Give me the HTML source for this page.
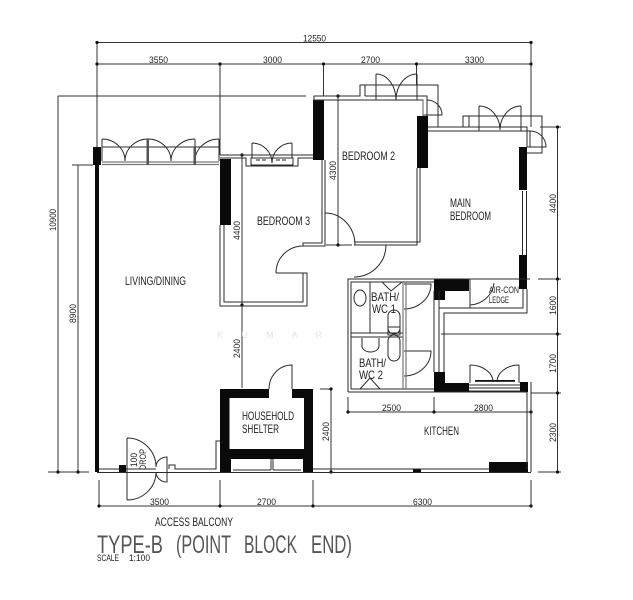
<!DOCTYPE html>
<html><head><meta charset="utf-8"><style>
html,body{margin:0;padding:0;background:#fff;width:633px;height:600px;overflow:hidden}
svg{display:block}
text{font-family:"Liberation Sans",sans-serif;fill:#222}
</style></head><body>
<svg width="633" height="600" viewBox="0 0 633 600" xmlns="http://www.w3.org/2000/svg">
<rect width="633" height="600" fill="#fff"/>
<!-- dimension lines -->
<g fill="none" stroke="#333" stroke-width="1">
<path d="M97 42.5H531M97 64H531M97 42.5V147M220 64V155M323.5 64V96M416.5 64V85M531 42.5V127"/>
<path d="M58 96H306M58 96V472M78 165V472M48 472H89M72 165H93"/>
<path d="M242 155V388M338 96V245M326 245H352"/>
<path d="M557.5 127V472M540 127H561M538 279H561M441 334H561M531 393H561M538 472H561"/>
<path d="M331 389V472M320 389H331"/>
<path d="M348 412H531M348 397V412M434 397V412M531 392V412"/>
<path d="M99 506H531M99 480V506M220 480V506M313 480V506M531 480V506"/>
</g>
<g fill="#111">
<circle cx="97" cy="42.5" r="1.6"/><circle cx="531" cy="42.5" r="1.6"/>
<circle cx="97" cy="64" r="1.6"/><circle cx="220" cy="64" r="1.6"/><circle cx="323.5" cy="64" r="1.6"/><circle cx="416.5" cy="64" r="1.6"/><circle cx="531" cy="64" r="1.6"/>
<circle cx="338" cy="96" r="1.6"/><circle cx="338" cy="245" r="1.6"/><circle cx="242" cy="155" r="1.6"/><circle cx="242" cy="305" r="1.6"/>
<circle cx="557.5" cy="127" r="1.6"/><circle cx="557.5" cy="279" r="1.6"/><circle cx="557.5" cy="334" r="1.6"/><circle cx="557.5" cy="393" r="1.6"/><circle cx="557.5" cy="472" r="1.6"/>
<circle cx="58" cy="472" r="1.6"/><circle cx="78" cy="472" r="1.6"/>
<circle cx="331" cy="389" r="1.6"/><circle cx="331" cy="472" r="1.6"/>
<circle cx="348" cy="412" r="1.6"/><circle cx="434" cy="412" r="1.6"/><circle cx="531" cy="412" r="1.6"/>
<circle cx="99" cy="506" r="1.6"/><circle cx="220" cy="506" r="1.6"/><circle cx="313" cy="506" r="1.6"/><circle cx="531" cy="506" r="1.6"/>
</g>
<!-- black walls -->
<g fill="#0a0a0a">
<rect x="95" y="165" width="4" height="307"/>
<rect x="93" y="147" width="8" height="18"/>
<rect x="220" y="159" width="11" height="66"/>
<rect x="313" y="100" width="11" height="60"/>
<rect x="417" y="116" width="11" height="52"/>
<rect x="519" y="147" width="8" height="43"/>
<rect x="519" y="255" width="8" height="34"/>
<rect x="434" y="279" width="35" height="12"/>
<rect x="434" y="291" width="11" height="9"/>
<rect x="434" y="372" width="11" height="20"/>
<rect x="445" y="383" width="24" height="9"/>
<rect x="520" y="382" width="8" height="10"/>
<rect x="489" y="462" width="39" height="10"/>
<rect x="413" y="469" width="8" height="3"/>
<rect x="119" y="465" width="7" height="7"/>
<path fill-rule="evenodd" d="M220 389H313V472H303V459H231V472H220ZM229.500 398V449H304V398Z"/>
</g>
<rect x="269" y="389" width="23" height="9" fill="#fff"/>
<!-- plan lines -->
<g fill="none" stroke="#2a2a2a" stroke-width="1">
<!-- living window -->
<path d="M102 139V161M148 139V161M195 139V161M219 139V161M102 147H219"/>
<path d="M102 139A23 22 0 0 1 125 161M148 139A23 22 0 0 0 125 161M148 139A23 22 0 0 1 171 161M195 139A24 22 0 0 0 171 161M219 139A24 22 0 0 0 195 161"/>
<!-- bedroom 3 -->
<path d="M220 155H313M220 158H246V166H298V158H313"/>
<path d="M252 158V143M292 158V143M252 143A20 20 0 0 1 272 163M292 143A20 20 0 0 0 272 163M251 158H293V165H251Z"/>
<path d="M220 225V306H307V273H276M224 225V302H303V273M276 273A27 27 0 0 1 303 246M303 246V243H322V160M303 243V246H325V160"/>
<!-- bedroom 2 -->
<path d="M314 100V96H360V85H438V127M365 85V96M360 85H365M314 100H365"/>
<path d="M365 96H427V116M365 100H423V116M376 74V100M417 74V100M376 74A20 26 0 0 1 396 100M417 74A21 26 0 0 0 396 100M427 100A15 15 0 0 1 442 115H423"/>
<path d="M417 168V245H354M420 168V242H354M325 213A30 32 0 0 1 355 245"/>
<!-- main bedroom -->
<path d="M428 127H463V116H542V153H527M469 116V127M428 131H530V147M463 127H527V147M479 106V131M521 106V131M479 106A21 24 0 0 1 500 130M521 106A21 24 0 0 0 500 130M530 131A16 16 0 0 1 546 147H527"/>
<path d="M522.500 191V255M526.500 191V255"/>
<!-- bathrooms -->
<path d="M348 392V279H530M351 389V282H434M348 392H527M351 389H434M351 333H403M351 337H403M370 282V333"/>
<path d="M404 284H431A27 25 0 0 1 404 309M404 351H431A27 25 0 0 1 404 376"/>
<path d="M382 282L391 291L402 282M360 389L370 378L380 389"/>
<ellipse cx="360" cy="298" rx="6" ry="8"/>
<path d="M362 338V346A8.500 6 0 0 0 379 346V338"/>
<rect x="388" y="310" width="12" height="24" rx="6"/>
<rect x="388" y="335" width="12" height="26" rx="6"/>
<rect x="388" y="327" width="12" height="8"/>
<path d="M434 291V372M439 291V372"/>
<!-- air-con -->
<path d="M527 289V313H444V372M523 289V308H439V291M470 279V308M470 305A26 24 0 0 0 494 283"/>
<!-- bath door outside -->
<path d="M354 277A32 32 0 0 0 386 245"/>
<!-- kitchen window -->
<path d="M470 365V383M519 365V383M470 365A23 17 0 0 1 493 382M519 365A22 17 0 0 0 497 382M469 385H520M469 388H520M469 391H520"/>
<!-- kitchen walls -->
<path d="M527 392V469M531 382V472M313 469H489"/>
<!-- shelter door -->
<path d="M269 389A23 24 0 0 1 292 365V389"/>
<!-- bottom -->
<path d="M97 472.500H531"/>
<path d="M99 469H119M126 469H156M169 469V465H175V469H216V441H220"/>
<path d="M127 438V500M127 438A29 29 0 0 1 156 467M127 500A29 28 0 0 0 156 472M156 467A11 10 0 0 1 167 457V482A11 10 0 0 1 156 472"/>
<path d="M271 459V470M273 459V470M233 470H271M273 470H301"/>
</g>
<g fill="none" stroke="#777" stroke-width="1.200">
<path d="M102 162H219M102 164.500H219"/>
<path d="M423 100V116"/>
<path d="M403 282V389M406 282V389"/>
</g>
<g fill="#555">
<rect x="146.500" y="139" width="2.500" height="26"/>
<rect x="193.500" y="147" width="2.500" height="18"/>
</g>
<path d="M256 160H268M276 160H288" stroke="#222" stroke-width="1" stroke-dasharray="4 2" fill="none"/>
<rect x="475" y="380" width="40" height="1.800" fill="#111"/>
<!-- dimension text -->
<g font-size="9.500">
<text x="303" y="41.500" textLength="23" lengthAdjust="spacingAndGlyphs">12550</text>
<text x="149" y="63" textLength="19" lengthAdjust="spacingAndGlyphs">3550</text>
<text x="263" y="63" textLength="19" lengthAdjust="spacingAndGlyphs">3000</text>
<text x="361" y="63" textLength="19" lengthAdjust="spacingAndGlyphs">2700</text>
<text x="465" y="63" textLength="19" lengthAdjust="spacingAndGlyphs">3300</text>
<text x="150" y="505" textLength="19" lengthAdjust="spacingAndGlyphs">3500</text>
<text x="257" y="505" textLength="19" lengthAdjust="spacingAndGlyphs">2700</text>
<text x="413" y="505" textLength="19" lengthAdjust="spacingAndGlyphs">6300</text>
<text x="382" y="411" textLength="19" lengthAdjust="spacingAndGlyphs">2500</text>
<text x="474" y="411" textLength="19" lengthAdjust="spacingAndGlyphs">2800</text>
<text transform="translate(56 231) rotate(-90)" textLength="22" lengthAdjust="spacingAndGlyphs">10900</text>
<text transform="translate(76 323) rotate(-90)" textLength="19" lengthAdjust="spacingAndGlyphs">8900</text>
<text transform="translate(240 240) rotate(-90)" textLength="19" lengthAdjust="spacingAndGlyphs">4400</text>
<text transform="translate(240 358) rotate(-90)" textLength="19" lengthAdjust="spacingAndGlyphs">2400</text>
<text transform="translate(336 180) rotate(-90)" textLength="19" lengthAdjust="spacingAndGlyphs">4300</text>
<text transform="translate(329 441) rotate(-90)" textLength="19" lengthAdjust="spacingAndGlyphs">2400</text>
<text transform="translate(556 213) rotate(-90)" textLength="19" lengthAdjust="spacingAndGlyphs">4400</text>
<text transform="translate(556 315) rotate(-90)" textLength="19" lengthAdjust="spacingAndGlyphs">1600</text>
<text transform="translate(556 373) rotate(-90)" textLength="19" lengthAdjust="spacingAndGlyphs">1700</text>
<text transform="translate(556 442) rotate(-90)" textLength="19" lengthAdjust="spacingAndGlyphs">2300</text>
</g>
<!-- room labels -->
<g font-size="12">
<text x="125" y="285" textLength="61" lengthAdjust="spacingAndGlyphs">LIVING/DINING</text>
<text x="257" y="225" textLength="53" lengthAdjust="spacingAndGlyphs">BEDROOM 3</text>
<text x="342" y="160" textLength="53" lengthAdjust="spacingAndGlyphs">BEDROOM 2</text>
<text x="450" y="207" textLength="21" lengthAdjust="spacingAndGlyphs">MAIN</text>
<text x="450" y="220" textLength="41" lengthAdjust="spacingAndGlyphs">BEDROOM</text>
<text x="242" y="420" textLength="52" lengthAdjust="spacingAndGlyphs">HOUSEHOLD</text>
<text x="242" y="433" textLength="37" lengthAdjust="spacingAndGlyphs">SHELTER</text>
<text x="424" y="435" textLength="35" lengthAdjust="spacingAndGlyphs">KITCHEN</text>
<text x="371" y="301" textLength="28" lengthAdjust="spacingAndGlyphs">BATH/</text>
<text x="372" y="313" textLength="24" lengthAdjust="spacingAndGlyphs">WC 1</text>
<text x="359" y="367" textLength="27" lengthAdjust="spacingAndGlyphs">BATH/</text>
<text x="359" y="379" textLength="24" lengthAdjust="spacingAndGlyphs">WC 2</text>
<text x="155" y="526" textLength="78" lengthAdjust="spacingAndGlyphs">ACCESS BALCONY</text>
</g>
<g font-size="9.500">
<text x="489" y="293" textLength="30" lengthAdjust="spacingAndGlyphs">AIR-CON</text>
<text x="489" y="303" textLength="20" lengthAdjust="spacingAndGlyphs">LEDGE</text>
<text transform="translate(137 467) rotate(-90)" textLength="14" lengthAdjust="spacingAndGlyphs">100</text>
<text transform="translate(146 470) rotate(-90)" textLength="21" lengthAdjust="spacingAndGlyphs">DROP</text>
</g>
<text x="217" y="338" font-size="9" style="fill:#e4e4e4" textLength="105">K U M A R</text>
<g font-size="25" style="font-size:25px">
<text x="97" y="553" style="fill:#555" textLength="66" lengthAdjust="spacingAndGlyphs">TYPE-B</text>
<text x="176" y="553" style="fill:#555" textLength="55" lengthAdjust="spacingAndGlyphs">(POINT</text>
<text x="244" y="553" style="fill:#555" textLength="53" lengthAdjust="spacingAndGlyphs">BLOCK</text>
<text x="311" y="553" style="fill:#555" textLength="41" lengthAdjust="spacingAndGlyphs">END)</text>
</g>
<text x="97" y="561" font-size="9" textLength="22" lengthAdjust="spacingAndGlyphs">SCALE</text>
<text x="129" y="561" font-size="9" textLength="21" lengthAdjust="spacingAndGlyphs">1:100</text>
</svg>
</body></html>
